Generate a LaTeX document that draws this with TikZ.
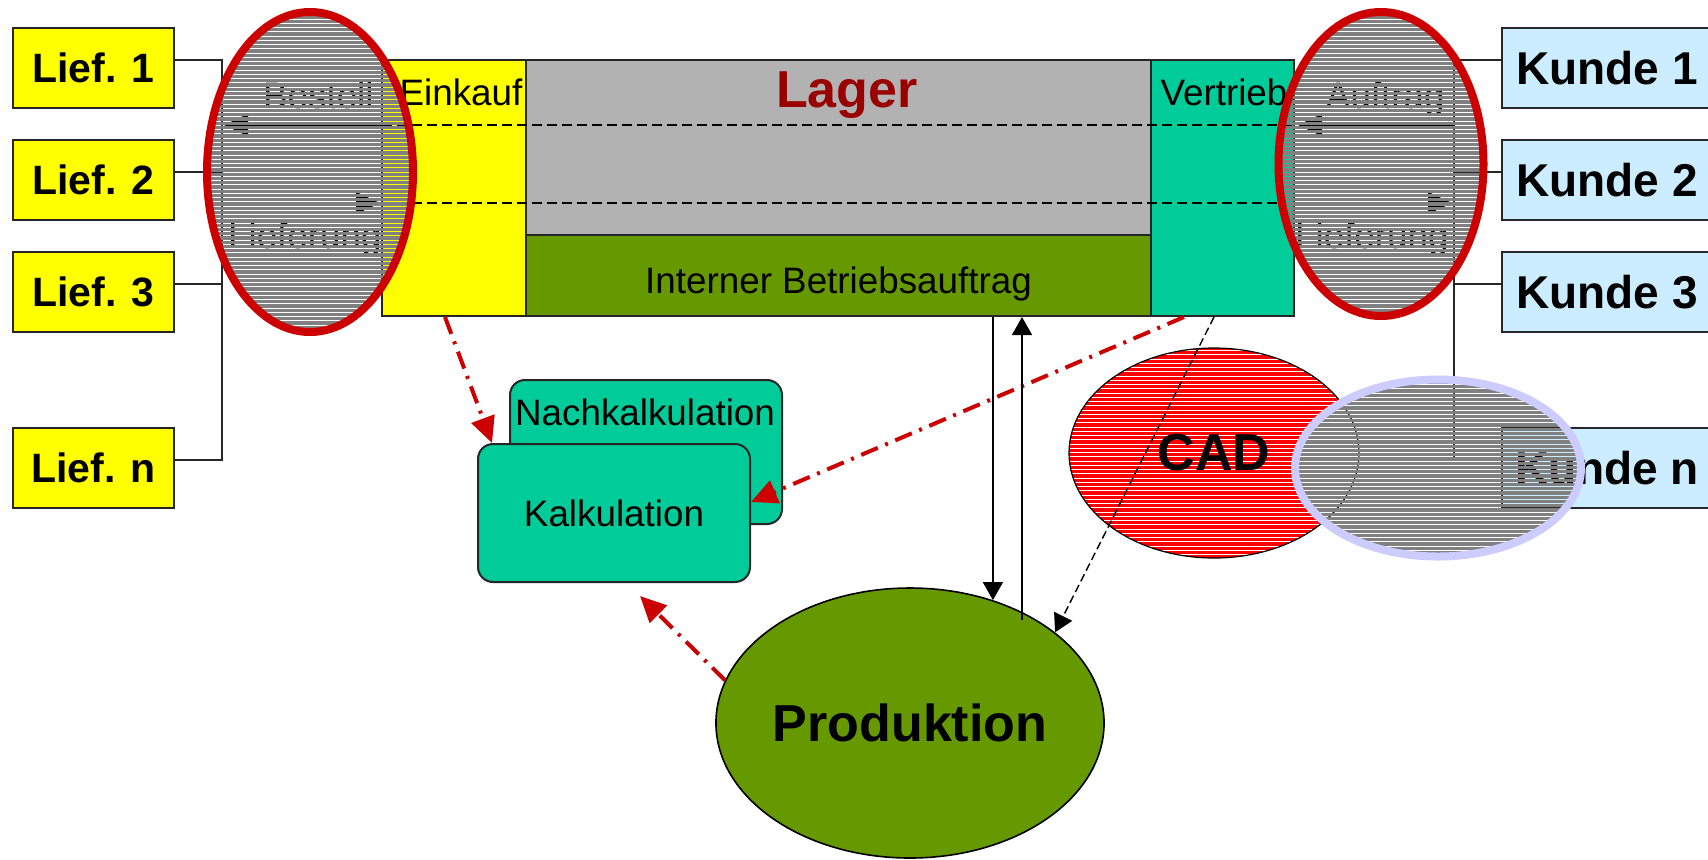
\documentclass[tikz,border=0pt]{standalone}
\usepackage{fontspec}
\setmainfont{Liberation Sans}
\usetikzlibrary{arrows.meta,shapes.geometric}
\definecolor{liefyellow}{HTML}{FFFF00}
\definecolor{kundeblue}{HTML}{CCECFF}
\definecolor{lagergray}{HTML}{B2B2B2}
\definecolor{ibgreen}{HTML}{669900}
\definecolor{mint}{HTML}{00CC99}
\definecolor{lagerred}{HTML}{990000}
\definecolor{outred}{HTML}{CC0000}
\definecolor{cadred}{HTML}{FF0000}
\definecolor{stripegray}{HTML}{808080}
\definecolor{lavender}{HTML}{CCCCFF}
% horizontal stripes on a common page grid, clipped to an ellipse
\newcommand\hatchfill[5]{%
  \begin{scope}
    \clip (#1,#2) ellipse [x radius=#3, y radius=#4];
    \foreach \yy in {0,4.25,...,862}{%
      \draw[#5, line width=1.625pt] (#1-320,\yy) -- (#1+320,\yy);}
  \end{scope}}
\begin{document}
\begin{tikzpicture}[x=0.5pt,y=-0.5pt,
  frame/.style={draw=black!85, line width=1pt, inner sep=0pt},
  liefbox/.style={frame, fill=liefyellow, minimum width=80.5pt, minimum height=40pt,
    font=\bfseries\fontsize{20.5}{24}\selectfont},
  kundebox/.style={frame, fill=kundeblue, minimum width=105pt, minimum height=40pt,
    font=\bfseries\fontsize{23}{27}\selectfont},
  reg/.style={inner sep=0pt, anchor=base, font=\fontsize{18.4}{22}\selectfont},
  bigbold/.style={font=\bfseries\fontsize{26}{30}\selectfont},
  bus/.style={draw=black!85, line width=0.75pt},
  dashline/.style={draw=black, line width=0.6pt, dash pattern=on 5pt off 2.5pt},
  subarrow/.style={draw=black, line width=0.75pt, -{Triangle[length=12pt,width=11pt]}},
  flowline/.style={draw=black, line width=0.8pt, -{Triangle[length=9pt,width=10pt]}},
  dashflow/.style={draw=black, line width=0.7pt, dash pattern=on 4pt off 2pt,
    -{Triangle[length=9pt,width=10pt]}},
  redflow/.style={draw=outred, line width=2pt, dash pattern=on 9pt off 4pt on 1.5pt off 4pt,
    -{Triangle[length=13pt,width=12pt]}},
  hatchring/.style={ellipse, inner sep=0pt, line width=4pt}
]
\useasboundingbox (0,0) rectangle (1708,859);
\clip (0,0) rectangle (1708,859);

% suppliers
\node[liefbox] (l1) at (93.5,68) {Lief. 1};
\node[liefbox] (l2) at (93.5,180) {Lief. 2};
\node[liefbox] (l3) at (93.5,292) {Lief. 3};
\node[liefbox] (ln) at (93.5,468) {Lief. n};
\coordinate (lbusT) at (222,60);
\coordinate (lbusB) at (222,460);
\draw[bus] ([yshift=4pt]l1.east) -- (lbusT) -- (lbusB) -- ([yshift=4pt]ln.east);
\draw[bus] ([yshift=4pt]l2.east) -- ([yshift=4pt]l2.east -| lbusT);
\draw[bus] ([yshift=4pt]l3.east) -- ([yshift=4pt]l3.east -| lbusT);

% customers
\node[kundebox] (k1) at (1607,68) {Kunde 1};
\node[kundebox] (k2) at (1607,180) {Kunde 2};
\node[kundebox] (k3) at (1607,292) {Kunde 3};
\node[kundebox] (kn) at (1607,468) {Kunde n};
\coordinate (kbusT) at (1454,60);
\coordinate (kbusB) at (1454,460);
\draw[bus] ([yshift=4pt]k1.west) -- (kbusT) -- (kbusB) -- ([yshift=4pt]kn.west);
\draw[bus] ([yshift=4pt]k2.west) -- ([yshift=4pt]k2.west -| kbusT);
\draw[bus] ([yshift=4pt]k3.west) -- ([yshift=4pt]k3.west -| kbusT);

% main block
\node[frame, fill=liefyellow, minimum width=72pt, minimum height=128pt] (einkauf) at (454,188) {};
\node[frame, fill=lagergray, minimum width=312.5pt, minimum height=87.5pt] (lager) at (838.5,147.5) {};
\node[frame, fill=ibgreen, minimum width=312.5pt, minimum height=40.5pt] (iba) at (838.5,275.5) {};
\node[frame, fill=mint, minimum width=71.5pt, minimum height=128pt] (vertrieb) at (1222.5,188) {};
\node[reg] (einkaufT) at (461,105) {Einkauf};
\node[reg] (vertriebT) at (1224,105) {Vertrieb};
\node[reg, bigbold, text=lagerred] (lagerT) at (847,107) {Lager};
\node[reg] (ibaT) at (838.5,293) {Interner Betriebsauftrag};

\coordinate (bL) at (382,125);
\coordinate (bR) at (1294,125);
\coordinate (lL) at (382,203);
\coordinate (lR) at (1294,203);
\draw[dashline] (bL) -- (bR);
\draw[dashline] (lL) -- (lR);

% exchanges under the rings
\draw[subarrow] (bL) -- ([xshift=1pt]lbusT |- bL);
\draw[subarrow] (lbusT |- lL) -- ([xshift=-1pt]lL);
\draw[subarrow] (kbusT |- bR) -- ([xshift=2pt]bR);
\draw[subarrow] (lR) -- ([xshift=-1pt]kbusT |- lR);
\node[reg, anchor=base east] (bestellT) at (374,108) {Bestell};
\node[reg, anchor=base east] (lieferLT) at (382,248) {Lieferung};
\node[reg, anchor=base east] (auftragT) at (1445,108) {Auftrag};
\node[reg, anchor=base east] (lieferRT) at (1449,248) {Lieferung};

% hatched rings
\hatchfill{310}{172}{51.5pt}{80pt}{stripegray}
\node[hatchring, draw=outred, minimum width=103pt, minimum height=160pt] (lring) at (310,172) {};
\hatchfill{1381}{164}{51.25pt}{76pt}{stripegray}
\node[hatchring, draw=outred, minimum width=102.5pt, minimum height=152pt] (rring) at (1381,164) {};

% calculation
\node[frame, fill=mint, rounded corners=7.5pt, minimum width=136pt, minimum height=72pt] (nachkalk) at (646,452) {};
\node[reg] (nachkalkT) at (645,425) {Nachkalkulation};
\node[frame, fill=mint, rounded corners=7.5pt, minimum width=136pt, minimum height=69pt,
  font=\fontsize{18.4}{22}\selectfont] (kalk) at (614,513) {Kalkulation};

% production and CAD
\node[ellipse, draw=black, line width=0.8pt, fill=ibgreen, inner sep=0pt,
  minimum width=192pt, minimum height=135pt, bigbold] (prod) at (910,723) {Produktion};
\hatchfill{1214}{453}{72.5pt}{52.5pt}{cadred}
\node[ellipse, draw=black, line width=0.6pt, inner sep=0pt,
  minimum width=145pt, minimum height=105pt, bigbold] (cad) at (1214,453) {CAD};

% connectors
\draw[redflow] ([xshift=-4.5pt]einkauf.south) -- ([xshift=7.5pt]kalk.north west);
\draw[redflow] ([xshift=17pt]vertrieb.south west) -- ([yshift=5.5pt]kalk.east);
\draw[redflow] (prod.167) -- ([xshift=13pt,yshift=-6.5pt]kalk.south);
\draw[flowline] (iba.south -| prod.56) -- (prod.56);
\coordinate (upStart) at (1022,620);
\draw[flowline] (upStart) -- (upStart |- iba.south);
\draw[dashflow] ([xshift=-4.25pt]vertrieb.south) -- (prod.32);

% lavender ring
\hatchfill{1438}{468}{71.5pt}{44.25pt}{stripegray}
\node[hatchring, draw=lavender, minimum width=143pt, minimum height=88.5pt] (kring) at (1438,468) {};
\end{tikzpicture}
\end{document}
